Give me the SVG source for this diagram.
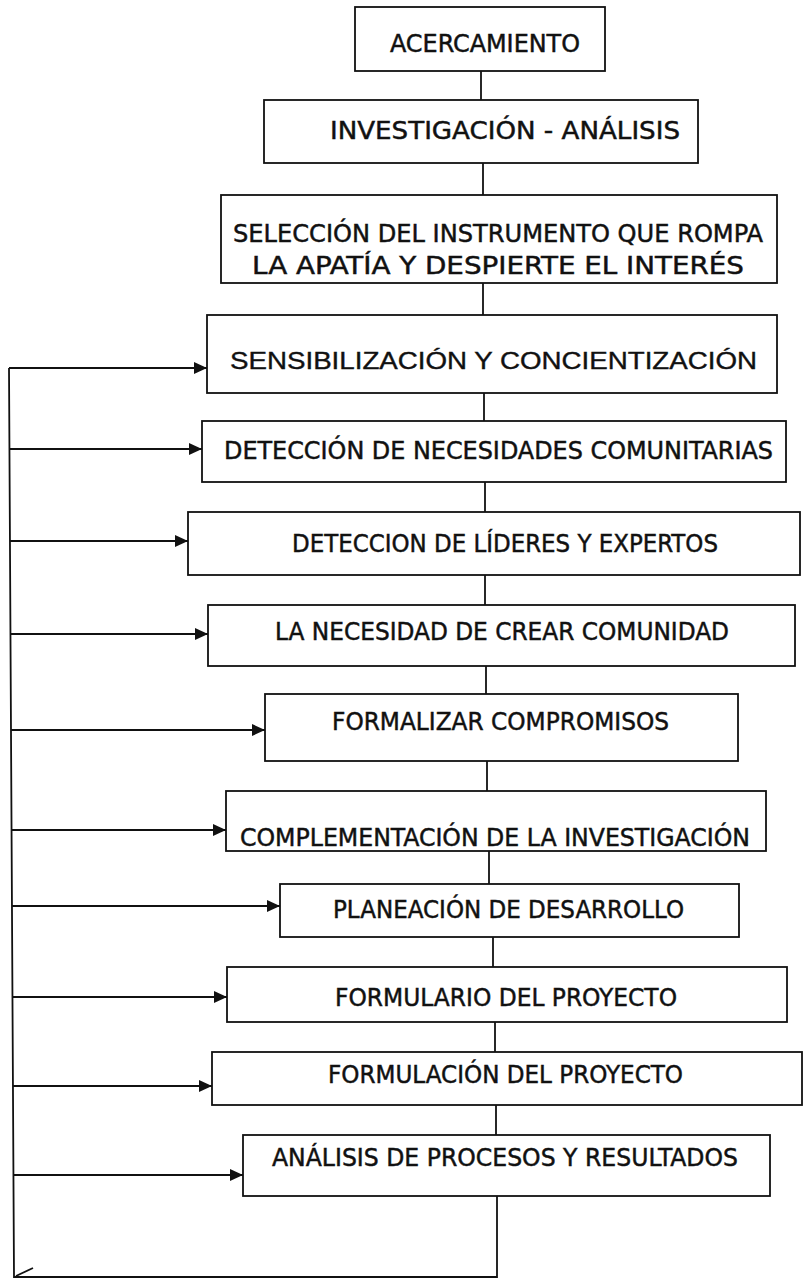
<svg xmlns="http://www.w3.org/2000/svg" width="806" height="1280" viewBox="0 0 806 1280">
<style>
  .box { fill: #ffffff; stroke: #111111; stroke-width: 1.8; }
  .t { font-family: "DejaVu Sans Condensed", "DejaVu Sans", sans-serif; font-size: 25.5px; fill: #111111; stroke: #111111; stroke-width: 0.45; }
  .ta { font-family: "Liberation Sans", Arial, sans-serif; font-size: 24.5px; fill: #111111; stroke: #111111; stroke-width: 0.4; }
  .ln { stroke: #111111; stroke-width: 1.8; fill: none; }
  .arr { stroke: #111111; stroke-width: 1.8; fill: none; marker-end: url(#ah); }
</style>
<defs>
  <marker id="ah" markerWidth="14" markerHeight="12" refX="13" refY="6" orient="auto" markerUnits="userSpaceOnUse">
    <path d="M0,0 L13,6 L0,12 Z" fill="#111111"/>
  </marker>
</defs>
<rect width="806" height="1280" fill="#ffffff"/>

<g id="connectors">
  <line class="ln" x1="481" y1="71" x2="481" y2="100"/>
  <line class="ln" x1="483" y1="163" x2="483" y2="195"/>
  <line class="ln" x1="483" y1="283" x2="483" y2="315"/>
  <line class="ln" x1="484" y1="393" x2="484" y2="421"/>
  <line class="ln" x1="485" y1="482" x2="485" y2="512"/>
  <line class="ln" x1="485" y1="575" x2="485" y2="605"/>
  <line class="ln" x1="486" y1="666" x2="486" y2="694"/>
  <line class="ln" x1="487" y1="761" x2="487" y2="791"/>
  <line class="ln" x1="489" y1="851" x2="489" y2="884"/>
  <line class="ln" x1="493" y1="937" x2="493" y2="967"/>
  <line class="ln" x1="495" y1="1022" x2="495" y2="1052"/>
  <line class="ln" x1="496" y1="1105" x2="496" y2="1135"/>
  <polyline class="ln" points="497,1196 497,1277 14,1277 9,368"/>
  <line class="ln" x1="16" y1="1276" x2="33" y2="1268" stroke-width="1"/>
  <line class="arr" x1="9" y1="368" x2="207" y2="368"/>
  <line class="arr" x1="9" y1="449" x2="202" y2="449"/>
  <line class="arr" x1="10" y1="541" x2="188" y2="541"/>
  <line class="arr" x1="10" y1="634" x2="208" y2="634"/>
  <line class="arr" x1="11" y1="730" x2="265" y2="730"/>
  <line class="arr" x1="11" y1="830" x2="226" y2="830"/>
  <line class="arr" x1="12" y1="906" x2="280" y2="906"/>
  <line class="arr" x1="12" y1="997" x2="227" y2="997"/>
  <line class="arr" x1="13" y1="1086" x2="212" y2="1086"/>
  <line class="arr" x1="13" y1="1175" x2="243" y2="1175"/>
</g>

<g id="n1"><rect class="box" x="355" y="7" width="250" height="64"/>
  <text class="t" x="390" y="52" textLength="190" lengthAdjust="spacingAndGlyphs">ACERCAMIENTO</text></g>
<g id="n2"><rect class="box" x="264" y="100" width="434" height="63"/>
  <text class="t" x="330" y="139" textLength="350" lengthAdjust="spacingAndGlyphs">INVESTIGACIÓN - ANÁLISIS</text></g>
<g id="n3"><rect class="box" x="221" y="195" width="556" height="88"/>
  <text class="t" x="233" y="242" textLength="530" lengthAdjust="spacingAndGlyphs">SELECCIÓN DEL INSTRUMENTO QUE ROMPA</text>
  <text class="t" x="252" y="274" textLength="492" lengthAdjust="spacingAndGlyphs">LA APATÍA Y DESPIERTE EL INTERÉS</text></g>
<g id="n4"><rect class="box" x="207" y="315" width="570" height="78"/>
  <text class="ta" x="230" y="369" textLength="527" lengthAdjust="spacingAndGlyphs">SENSIBILIZACIÓN Y CONCIENTIZACIÓN</text></g>
<g id="n5"><rect class="box" x="202" y="421" width="584" height="61"/>
  <text class="t" x="224" y="459" textLength="549" lengthAdjust="spacingAndGlyphs">DETECCIÓN DE NECESIDADES COMUNITARIAS</text></g>
<g id="n6"><rect class="box" x="188" y="512" width="612" height="63"/>
  <text class="t" x="292" y="552" textLength="426" lengthAdjust="spacingAndGlyphs">DETECCION DE LÍDERES Y EXPERTOS</text></g>
<g id="n7"><rect class="box" x="208" y="605" width="587" height="61"/>
  <text class="t" x="275" y="640" textLength="454" lengthAdjust="spacingAndGlyphs">LA NECESIDAD DE CREAR COMUNIDAD</text></g>
<g id="n8"><rect class="box" x="265" y="694" width="473" height="67"/>
  <text class="t" x="332" y="730" textLength="337" lengthAdjust="spacingAndGlyphs">FORMALIZAR COMPROMISOS</text></g>
<g id="n9"><rect class="box" x="226" y="791" width="540" height="60"/>
  <text class="t" x="240" y="846" textLength="510" lengthAdjust="spacingAndGlyphs">COMPLEMENTACIÓN DE LA INVESTIGACIÓN</text></g>
<g id="n10"><rect class="box" x="280" y="884" width="459" height="53"/>
  <text class="t" x="333" y="918" textLength="351" lengthAdjust="spacingAndGlyphs">PLANEACIÓN DE DESARROLLO</text></g>
<g id="n11"><rect class="box" x="227" y="967" width="560" height="55"/>
  <text class="t" x="335" y="1006" textLength="342" lengthAdjust="spacingAndGlyphs">FORMULARIO DEL PROYECTO</text></g>
<g id="n12"><rect class="box" x="212" y="1052" width="590" height="53"/>
  <text class="t" x="328" y="1083" textLength="355" lengthAdjust="spacingAndGlyphs">FORMULACIÓN DEL PROYECTO</text></g>
<g id="n13"><rect class="box" x="243" y="1135" width="527" height="61"/>
  <text class="t" x="272" y="1166" textLength="466" lengthAdjust="spacingAndGlyphs">ANÁLISIS DE PROCESOS Y RESULTADOS</text></g>
</svg>
